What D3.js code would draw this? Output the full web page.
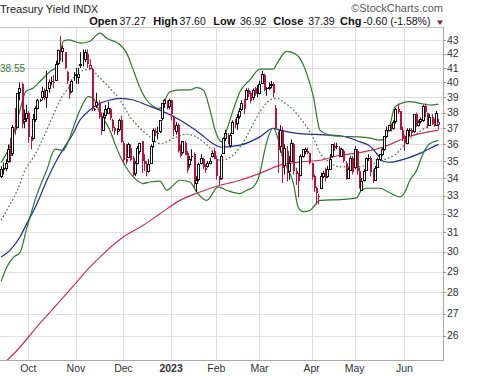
<!DOCTYPE html>
<html><head><meta charset="utf-8">
<script src="https://cdn.jsdelivr.net/npm/d3@7"></script>
<style>
html,body{margin:0;padding:0;background:#fff;}
svg{display:block;font-family:"Liberation Sans",Arial,sans-serif;}
</style></head><body>
<svg id="c" width="480" height="376"></svg>
<script>
// ---------- data ----------
const monthIdx = [12,33,54,75,95,114,137,156,178];
const monthLabels = ["Oct","Nov","Dec","2023","Feb","Mar","Apr","May","Jun"];
const yTicks = [26,27,28,29,30,31,32,33,34,35,36,37,38,39,40,41,42,43];

const openV = [
34.1,34.6,34.6,35.0,35.7,35.5,37.1,37.1,39.3,39.9,37.5,37.7,
38.0,36.4,36.4,37.6,38.3,38.8,39.0,39.4,39.0,39.6,40.1,40.0,40.2,41.4,42.4,42.2,42.1,40.7,39.7,39.4,40.5,
40.5,40.4,41.2,41.6,41.6,42.0,41.0,40.9,38.2,38.5,38.6,37.8,36.9,37.8,38.0,38.2,37.5,37.0,36.8,36.9,37.5,
36.1,35.1,35.2,35.8,35.2,34.3,34.9,35.6,36.2,35.0,34.8,34.4,34.9,36.2,36.8,36.7,36.8,37.6,38.6,38.7,38.4,
38.8,37.8,36.8,37.2,35.5,35.5,36.1,35.5,34.8,35.3,35.4,33.7,33.9,34.9,35.1,34.6,34.7,34.9,35.3,35.6,
35.1,34.0,34.0,35.5,36.4,36.6,36.0,36.7,37.4,37.3,37.8,38.2,38.8,38.9,39.5,39.3,39.0,39.6,39.3,
39.3,40.0,40.5,39.6,39.6,39.8,39.9,38.3,36.6,35.9,36.9,34.8,35.6,34.4,35.0,36.0,34.4,34.1,34.2,35.3,35.6,35.6,35.5,
34.9,34.1,33.4,33.0,33.4,34.1,34.3,34.1,34.5,35.3,35.9,35.9,35.8,35.3,35.6,34.9,34.0,34.5,35.2,
34.6,35.6,34.4,33.3,33.9,34.5,35.2,35.2,34.4,33.9,34.6,35.1,35.4,35.7,36.5,36.9,37.2,37.0,37.4,38.2,38.1,36.9,
36.5,36.1,36.9,36.9,36.8,37.9,37.2,37.5,37.5,38.4,38.0,37.2,37.7,37.3,37.2,37.27];
const highV = [
34.7,34.9,35.1,36.0,36.4,37.2,38.3,39.3,40.0,40.0,38.2,38.5,
38.1,36.5,37.9,38.4,38.9,38.9,39.7,39.6,40.8,40.2,40.4,40.5,41.5,42.3,43.3,42.6,42.1,40.8,39.9,40.2,40.7,
41.0,41.0,42.1,42.3,42.3,42.3,41.6,41.0,38.3,39.3,38.8,38.0,38.0,38.5,38.7,38.3,37.6,37.1,37.0,37.6,37.8,
36.2,36.0,36.1,36.0,35.3,35.0,35.9,36.1,36.2,35.4,35.0,35.1,36.0,37.0,37.0,37.1,37.5,38.6,38.9,38.8,38.9,
38.8,37.8,37.4,37.3,36.0,36.2,36.2,35.6,35.3,35.7,35.5,34.1,34.9,35.4,35.2,34.8,35.0,35.2,35.6,35.8,
35.3,34.1,35.4,36.4,36.9,36.7,36.7,37.5,37.6,37.9,38.3,38.8,38.9,39.6,39.6,39.4,39.6,39.7,39.8,
40.1,40.8,40.6,39.7,40.0,40.1,40.0,38.5,36.8,37.2,37.1,36.0,35.9,35.3,36.3,36.1,34.6,34.3,35.4,35.7,35.8,35.8,35.5,
34.9,34.2,33.5,33.1,34.3,34.4,34.6,34.7,35.4,36.0,36.1,36.1,35.9,35.8,35.7,35.0,34.6,35.3,35.3,
35.9,35.7,34.6,34.0,34.5,35.2,35.4,35.3,34.5,34.7,35.2,35.4,35.8,36.5,37.1,37.2,37.3,37.5,38.3,38.6,38.1,37.1,
36.6,37.0,37.0,37.0,37.9,38.0,37.5,37.7,38.5,38.6,38.0,37.9,37.9,37.6,38.1,37.60];
const lowV = [
34.0,34.2,34.4,34.9,34.9,35.3,36.6,37.0,38.8,37.0,37.0,37.4,
36.1,35.7,36.3,37.4,38.2,38.7,38.8,38.8,38.3,39.3,39.8,39.6,40.1,41.2,41.5,41.4,40.9,39.9,38.9,39.3,40.1,
39.9,39.9,41.0,41.1,41.4,41.0,40.9,38.1,38.1,38.3,37.6,36.6,36.9,37.6,37.9,37.5,36.8,36.6,36.6,36.8,36.1,
34.8,34.8,35.2,35.0,34.1,34.1,34.8,35.4,34.3,34.4,34.1,34.3,34.9,35.8,36.5,36.3,36.7,37.5,38.3,38.2,38.2,
37.5,36.5,36.6,35.5,35.2,35.4,35.4,34.3,34.6,35.0,33.4,33.2,33.8,34.8,34.5,34.3,34.6,34.8,35.2,35.1,
33.9,33.6,33.9,35.5,36.2,36.0,35.8,36.7,37.0,36.9,37.6,38.1,37.9,38.8,39.0,38.6,38.8,39.1,39.0,
39.2,39.9,39.4,39.1,39.5,39.6,39.0,36.9,34.3,35.5,33.7,34.2,33.8,33.9,35.0,34.2,33.6,32.9,34.1,35.2,35.4,35.4,34.8,
33.9,33.2,32.5,32.5,33.4,34.0,33.8,34.0,34.5,35.2,35.6,35.7,35.2,35.3,34.9,33.9,34.0,34.5,34.2,
34.5,34.2,33.4,33.3,33.8,34.4,35.0,34.1,33.7,33.9,34.6,35.0,35.3,35.6,36.4,36.8,36.8,36.9,37.3,37.9,36.9,36.2,
35.6,36.0,36.5,36.5,36.7,37.1,37.1,37.3,37.4,37.7,37.0,37.2,37.2,37.1,37.2,36.92];
const closeV = [
34.5,34.5,34.9,35.7,35.3,37.1,36.9,39.3,39.6,37.3,37.6,38.0,
36.5,36.2,37.6,38.3,38.8,38.8,39.4,39.0,39.5,40.0,40.1,40.0,41.3,42.3,42.2,42.4,41.0,40.1,39.2,40.1,40.5,
40.5,40.6,41.3,41.6,42.1,41.3,41.2,38.2,38.2,38.7,37.7,36.9,37.7,38.2,38.3,37.6,37.0,36.8,36.8,37.5,36.1,
35.1,34.9,36.0,35.1,34.2,34.9,35.8,36.1,35.0,34.8,34.5,34.8,35.9,36.9,36.7,36.7,37.5,38.6,38.8,38.3,38.8,
37.9,36.9,37.2,35.6,35.3,36.2,35.4,34.5,35.1,35.3,33.7,33.9,34.8,35.2,34.6,34.5,34.9,35.0,35.5,35.1,
34.1,33.9,35.3,36.4,36.7,36.1,36.6,37.4,37.2,37.7,38.1,38.6,38.2,39.5,39.2,38.8,39.5,39.2,39.2,
39.9,40.6,39.5,39.6,39.7,39.9,39.3,37.0,35.7,36.9,34.6,35.8,34.3,34.9,36.1,34.4,34.2,33.8,35.3,35.7,35.7,35.5,34.9,
34.1,33.4,33.1,33.0,34.1,34.3,34.0,34.5,35.1,36.0,35.8,35.9,35.4,35.7,35.0,34.0,34.5,35.2,34.4,
35.7,34.4,33.4,33.8,34.4,35.2,35.2,34.4,33.9,34.6,35.1,35.4,35.7,36.5,36.9,37.2,37.0,37.4,38.2,38.0,36.9,36.4,
36.1,36.9,36.9,36.7,37.9,37.2,37.4,37.6,38.4,38.0,37.2,37.7,37.3,37.2,37.99,37.39];
const prevClose0 = 34.1;

// overlays (bar index, value)
const bbUpperIdx = [0,4,8,11,14,18,22,24,26,27.4,30,35,39,43.6,46.6,52.5,55.4,58.3,61.3,64.2,70,74.5,79,83.3,86.3,89.2,92.2,94.4,97.3,99.5,102.4,105.4,109.8,114.2,120.1,121.6,126,130.4,134.8,137.8,140.7,145.1,149.5,158.4,162.8,167.2,169.4,171.6,173.8,180.4,184.8,189.3,193];
const bbUpper = [34.9,35.95,38.0,39.4,39.6,40.2,40.8,41.0,41.9,42.9,43.0,42.76,42.88,43.5,43.12,42.64,42.04,40.86,39.63,38.82,38.27,39.37,39.49,39.49,39.65,39.49,38.16,36.88,36.16,36.88,38.16,39.37,40.17,40.91,40.91,41.27,42.16,41.92,40.63,39.04,36.88,36.57,36.5,36.46,36.38,36.26,36.38,37.2,38.38,38.71,38.6,38.49,38.55];
const bbMidIdx = [0,3,7.5,10.5,14.2,18.6,23,26.7,29.6,33.3,39.2,43.6,48,52.5,56.9,61.3,65.7,70.1,77.5,81.9,86.3,92.2,96.6,101,105.4,109.8,114.2,118.7,121.6,124.5,129,133.3,137.8,140.7,145.1,149.5,155.4,164.2,170.2,174.6,179,184,187.8,193];
const bbMid = [31.64,32.3,33.4,34.45,35.2,36.4,37.84,39.0,39.6,40.6,40.9,40.3,39.6,38.82,37.73,37.0,36.46,36.05,36.46,36.63,36.44,35.77,35.04,35.2,35.83,36.88,38.05,38.82,38.93,38.7,38.16,37.39,36.38,35.5,34.9,34.65,34.65,34.84,35.14,35.44,36.16,36.72,37.08,37.4];
const bbLowerIdx = [0,2.5,5.4,8.3,11.3,15.7,20.1,23.8,27.4,28.9,30.4,34.8,38.5,40.7,43.6,48,50.3,52.5,55.4,58.3,62.7,65.7,70.1,73.1,78.9,83.3,86.3,90.7,95.8,99.5,105.4,108.4,111.3,114.2,115.7,117.2,120.1,123.1,124.5,126,129,131.1,133.3,136.3,140.7,150.9,156.9,159,161.3,167.2,170.9,176,178.2,180.4,183.4,185.6,187.8,189.3,193];
const bbLower = [28.52,29.22,29.71,29.95,31.21,33.02,34.45,35.71,35.62,35.95,36.46,38.16,39.04,38.93,37.95,36.88,36.0,35.3,34.57,34.06,33.68,33.77,33.82,33.3,33.87,33.77,33.2,32.73,33.49,33.3,33.11,33.3,33.49,34.27,35.24,36.14,37.0,35.85,35.04,34.65,33.68,32.35,32.11,32.18,32.73,32.79,32.87,33.3,33.41,33.41,33.2,32.92,33.2,33.87,34.45,35.24,35.83,36.05,36.25];
const ma50Idx = [0,3.9,8.3,11.3,15.7,20.1,24.5,28.9,31.8,34.8,39.2,43.6,48,52.5,58.3,64.2,70.1,78.9,87.8,93.6,97.3,105.4,114.2,120.1,123.1,129,134.8,140.7,149.5,158.4,162.8,166,168.7,171.6,179,184.8,189.3,193];
const ma50 = [29.72,30.06,30.75,31.46,32.52,33.84,35.04,36.04,36.67,37.52,38.16,38.6,38.82,38.93,38.82,38.49,38.16,37.52,36.67,36.04,35.83,35.95,36.46,37.0,36.88,36.71,36.63,36.6,36.53,36.15,35.89,35.4,34.98,34.92,35.15,35.45,35.76,36.0];
const ma200Idx = [0,2.5,17.2,34,37.8,43.6,53.9,62.7,70.1,78.9,87.8,96.6,105.4,114.2,123.1,131.9,140.7,149.5,155.4,168.6,179,193];
const ma200 = [24.75,24.93,26.56,28.57,29.06,29.72,30.75,31.37,31.99,32.73,33.2,33.58,33.87,34.27,34.75,34.94,35.04,35.34,35.44,35.83,36.44,36.88];

// ---------- layout ----------
const L = 0, R = 443, T = 27, B = 360;
const svg = d3.select("#c");
const x = d3.scaleLinear().domain([-0.5, 195]).range([L, R]);
const y = d3.scaleLog().domain([24.95, 43.95]).range([B, T]);
const RED = "#c0103f", BLK = "#111";

svg.append("defs").append("clipPath").attr("id","plot")
  .append("rect").attr("x",L).attr("y",T).attr("width",R-L).attr("height",B-T);

// grid
const g = svg.append("g");
g.selectAll("line.h").data(yTicks).join("line")
  .attr("x1",L).attr("x2",R)
  .attr("y1",d=>Math.round(y(d))+0.5).attr("y2",d=>Math.round(y(d))+0.5)
  .attr("stroke","#e0e0e0");
g.selectAll("line.v").data(monthIdx).join("line")
  .attr("y1",T).attr("y2",B)
  .attr("x1",d=>Math.round(x(d))+0.5).attr("x2",d=>Math.round(x(d))+0.5)
  .attr("stroke","#dcdcdc");

// frame
svg.append("line").attr("x1",L).attr("x2",R).attr("y1",T+0.5).attr("y2",T+0.5).attr("stroke","#c8c8c8");
svg.append("line").attr("x1",L).attr("x2",R+0.5).attr("y1",B+0.5).attr("y2",B+0.5).attr("stroke","#a8a8a8");
svg.append("line").attr("x1",R+0.5).attr("x2",R+0.5).attr("y1",T).attr("y2",B+1).attr("stroke","#a8a8a8");

// right axis
const ya = svg.append("g");
ya.selectAll("line").data(yTicks).join("line")
  .attr("x1",R).attr("x2",R+3)
  .attr("y1",d=>Math.round(y(d))+0.5).attr("y2",d=>Math.round(y(d))+0.5)
  .attr("stroke","#999");
ya.selectAll("text").data(yTicks).join("text")
  .attr("x",R+4).attr("y",d=>y(d)).attr("dy","0.35em")
  .attr("font-size",10.5).attr("fill","#333").text(d=>d);

// bottom axis
svg.append("g").selectAll("text").data(monthIdx).join("text")
  .attr("x",d=>x(d)).attr("y",372).attr("text-anchor","middle")
  .attr("font-size",10.5).attr("fill","#333")
  .attr("font-weight",(d,i)=>monthLabels[i]==="2023"?"bold":"normal")
  .text((d,i)=>monthLabels[i]);

// plot content
const p = svg.append("g").attr("clip-path","url(#plot)");
const mkLine = (idx, vals) => d3.line().x((d,i)=>x(idx[i])).y(d=>y(d)).curve(d3.curveMonotoneX)(vals);

p.append("path").attr("d",mkLine(ma200Idx,ma200)).attr("fill","none").attr("stroke","#c8325a").attr("stroke-width",1.2);
p.append("path").attr("d",mkLine(ma50Idx,ma50)).attr("fill","none").attr("stroke","#232a8a").attr("stroke-width",1.2);
p.append("path").attr("d",mkLine(bbMidIdx,bbMid)).attr("fill","none").attr("stroke","#3e6e3e").attr("stroke-width",1.2).attr("stroke-dasharray","1.6,2.2");
p.append("path").attr("d",mkLine(bbUpperIdx,bbUpper)).attr("fill","none").attr("stroke","#2f7530").attr("stroke-width",1.2);
p.append("path").attr("d",mkLine(bbLowerIdx,bbLower)).attr("fill","none").attr("stroke","#2f7530").attr("stroke-width",1.2);

// candles
const idx = d3.range(closeV.length);
const col = i => closeV[i] >= (i ? closeV[i-1] : prevClose0) ? BLK : RED;
const cx = i => Math.round(x(i));
const hollow = i => closeV[i] > openV[i];
const cg = p.append("g");
cg.selectAll("line").data(idx).join("line")
  .attr("x1",i=>cx(i)+0.5).attr("x2",i=>cx(i)+0.5)
  .attr("y1",i=>y(highV[i])).attr("y2",i=>y(lowV[i]))
  .attr("stroke",col).attr("stroke-width",1);
cg.selectAll("rect").data(idx).join("rect")
  .attr("x",i=> hollow(i) ? cx(i)-0.5 : cx(i))
  .attr("width",2)
  .attr("y",i=>Math.round(y(Math.max(openV[i],closeV[i]))) + (hollow(i)?0.5:0))
  .attr("height",i=>Math.max(1,Math.round(Math.abs(y(openV[i])-y(closeV[i])))))
  .attr("fill",i=> hollow(i) ? "#fff" : col(i))
  .attr("stroke",i=> hollow(i) ? col(i) : "none")
  .attr("stroke-width",1);

// header
svg.append("text").attr("x",0).attr("y",12.5).attr("font-size",11).attr("fill","#222")
  .text("Treasury Yield ").append("tspan").attr("font-size",10.5).text("INDX");
svg.append("text").attr("x",R).attr("y",12).attr("text-anchor","end").attr("font-size",11).attr("fill","#5a5a5a")
  .text("\u00A9StockCharts.com");
const hdr = [
  ["Open",89.3,true],["37.27",119.5,false],["High",153.3,true],["37.60",179.5,false],
  ["Low",213.3,true],["36.92",240,false],["Close",273.3,true],["37.39",308.3,false],
  ["Chg",340,true],["-0.60 (-1.58%)",363.3,false]];
svg.append("g").selectAll("text").data(hdr).join("text")
  .attr("x",d=>d[1]).attr("y",25).attr("font-size",d=>d[2]?11:10.5)
  .attr("font-weight",d=>d[2]?"bold":"normal").attr("fill","#111").text(d=>d[0]);
svg.append("path").attr("d","M437,20.5 L443,20.5 L440,25 Z").attr("fill","#8a1a3c");
svg.append("text").attr("x",0).attr("y",72).attr("font-size",10).attr("fill","#2f7a2f").text("38.55");
</script>
</body></html>
